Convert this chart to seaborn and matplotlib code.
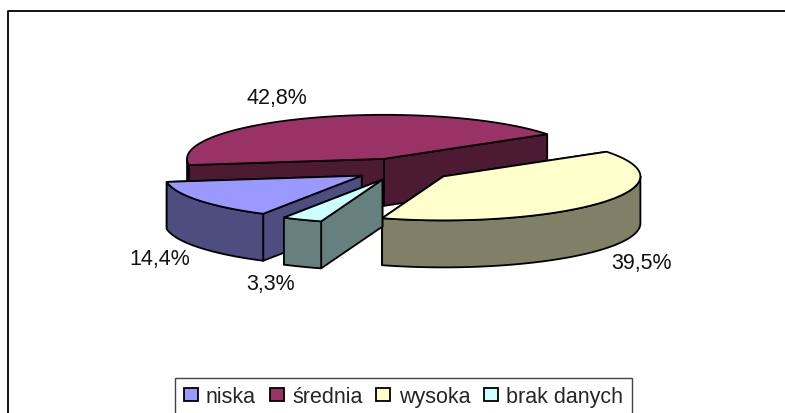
import numpy as np
import seaborn as sns
from matplotlib import pyplot as plt
from matplotlib.patches import Patch, Polygon

categories = ["niska", "średnia", "wysoka", "brak danych"]
shares = [14.4, 42.8, 39.5, 3.3]
labels = ["14,4%", "42,8%", "39,5%", "3,3%"]
colors = ["#9999FF", "#993366", "#FFFFCC", "#CCFFFF"]

sns.set_theme(style="white")
plt.rcParams["font.family"] = ["Liberation Sans", "DejaVu Sans"]
palette = sns.color_palette(colors)

# pie geometry, in pixels of the picture
cx, cy = 402.5, 170.5
rx, ry = 197, 44
depth = 47
explode = [0.25, 0.26, 0.26, 0.25]
first_angle = 210
line_w = 1.3

label_pos = [(160, 260), (277, 99), (641, 264), (271, 285)]
draw_order = [1, 0, 2, 3]


def rim(t):
    t = np.radians(t)
    return np.column_stack([rx * np.sin(t), -ry * np.cos(t)])


fig, ax = plt.subplots(figsize=(7.85, 4.14), dpi=100)
fig.subplots_adjust(0, 0, 1, 1)
ax.set_xlim(0, 785)
ax.set_ylim(414, 0)
ax.axis("off")

# chart border, cut off by the picture on the right and at the bottom
ax.plot([8, 8, 785], [414, 12, 12], color="black", lw=line_w, clip_on=False)

ends = first_angle + np.cumsum(shares) * 3.6
starts = ends - np.array(shares) * 3.6

for i in draw_order:
    a0, a1 = starts[i], ends[i]
    mid = np.radians((a0 + a1) / 2)
    apex = np.array([cx + explode[i] * rx * np.sin(mid), cy - explode[i] * ry * np.cos(mid)])
    top = apex + rim(np.linspace(a0, a1, 80))
    dark = tuple(c * 0.5 for c in palette[i])
    drop = np.array([0, depth])
    style = dict(facecolor=dark, edgecolor="black", lw=line_w, joinstyle="round")

    # radial walls, the one further back first
    for edge in sorted((top[0], top[-1]), key=lambda p: p[1]):
        ax.add_patch(Polygon([apex, edge, edge + drop, apex + drop], **style))

    # outer wall, only the part that faces the viewer
    for k in (-1, 0, 1):
        lo, hi = max(a0, 90 + 360 * k), min(a1, 270 + 360 * k)
        if hi > lo:
            arc = apex + rim(np.linspace(lo, hi, 60))
            ax.add_patch(Polygon(np.vstack([arc, (arc + drop)[::-1]]), **style))

    ax.add_patch(Polygon(np.vstack([apex, top]), facecolor=palette[i], edgecolor="black", lw=line_w))

for lab, (x, y) in zip(labels, label_pos):
    ax.text(x, y, lab, ha="center", va="center", fontsize=15.5, color="#111111")

handles = [Patch(facecolor=c, edgecolor="black", lw=line_w) for c in palette]
leg = ax.legend(handles, categories, ncols=4, loc="center", bbox_to_anchor=(403.5, 398),
                bbox_transform=ax.transData, frameon=True, fancybox=False, edgecolor="#444444",
                fontsize=15.5, handlelength=0.65, handleheight=0.55, handletextpad=0.38,
                columnspacing=0.65, borderpad=0.4, borderaxespad=0, framealpha=1)
leg.get_frame().set_linewidth(1.0)

plt.savefig("out.png", dpi=100)
